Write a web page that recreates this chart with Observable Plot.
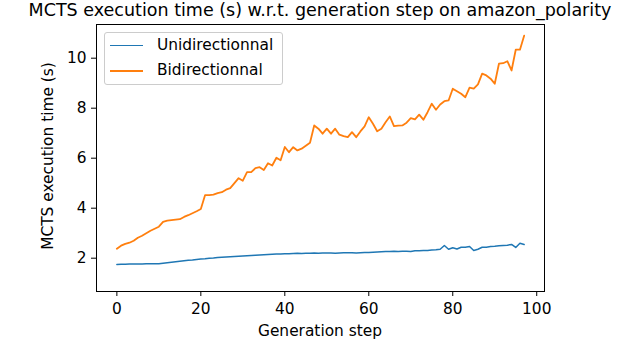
<!DOCTYPE html>
<html>
<head>
<meta charset="utf-8">
<script src="https://cdn.jsdelivr.net/npm/d3@7"></script>
<script src="https://cdn.jsdelivr.net/npm/@observablehq/plot@0.6"></script>
<style>
  html, body { margin: 0; padding: 0; background: #fff; }
  #wrap { position: relative; width: 640px; height: 341px; overflow: hidden; font-family: "DejaVu Sans", sans-serif; color: #000; }
  #title { height: 22px; line-height: 20px; font-size: 17.5px; text-align: center; white-space: nowrap; margin-left: -10px; margin-right: -10px; }
  .ov { position: absolute; font-size: 15.4px; white-space: nowrap; }
  #legend { position: absolute; left: 104px; top: 32px; width: 179px; height: 53px; border: 1px solid #cccccc; border-radius: 3px; background: rgba(255,255,255,0.8); box-sizing: border-box; }
  .lg-line { position: absolute; left: 5px; width: 33px; }
  .lg-text { position: absolute; left: 52px; font-size: 15.4px; line-height: 18px; }
</style>
</head>
<body>
<div id="wrap">
  <div id="title">MCTS execution time (s) w.r.t. generation step on amazon_polarity</div>
  <div id="chart"></div>
  <div class="ov" id="ylab" style="left:48px; top:156px; transform: translate(-50%,-50%) rotate(-90deg);">MCTS execution time (s)</div>
  <div class="ov" id="xlab" style="left:320px; top:331px; transform: translate(-50%,-50%);">Generation step</div>
  <div id="legend">
    <div class="lg-line" style="top:12px; height:0; border-top:1.5px solid #1f77b4;"></div>
    <div class="lg-text" style="top:3px;">Unidirectionnal</div>
    <div class="lg-line" style="top:37px; height:0; border-top:2px solid #ff7f0e;"></div>
    <div class="lg-text" style="top:28px;">Bidirectionnal</div>
  </div>
</div>
<script>
const seriesNames = ["Unidirectionnal", "Bidirectionnal"];
const seriesColors = ["#1f77b4", "#ff7f0e"];

const unidirectional = [
  1.75, 1.76, 1.76, 1.77, 1.77, 1.77, 1.77, 1.78, 1.78, 1.78,
  1.78, 1.80, 1.82, 1.84, 1.86, 1.88, 1.90, 1.92, 1.93, 1.95,
  1.97, 1.98, 2.00, 2.01, 2.03, 2.04, 2.05, 2.06, 2.07, 2.08,
  2.09, 2.10, 2.11, 2.12, 2.13, 2.14, 2.15, 2.16, 2.17, 2.17,
  2.18, 2.18, 2.19, 2.20, 2.19, 2.20, 2.20, 2.21, 2.20, 2.21,
  2.21, 2.21, 2.20, 2.21, 2.22, 2.22, 2.22, 2.21, 2.22, 2.23,
  2.23, 2.24, 2.25, 2.26, 2.27, 2.27, 2.28, 2.27, 2.28, 2.28,
  2.27, 2.30, 2.30, 2.31, 2.31, 2.33, 2.34, 2.36, 2.51, 2.36,
  2.42, 2.37, 2.44, 2.44, 2.47, 2.31, 2.36, 2.44, 2.44, 2.47,
  2.48, 2.50, 2.51, 2.52, 2.55, 2.43, 2.60, 2.55
];

const bidirectional = [
  2.38, 2.50, 2.57, 2.62, 2.70, 2.82, 2.90, 3.00, 3.10, 3.18,
  3.26, 3.45, 3.50, 3.52, 3.54, 3.56, 3.65, 3.72, 3.80, 3.88,
  3.97, 4.52, 4.52, 4.54, 4.60, 4.64, 4.74, 4.80, 5.00, 5.20,
  5.10, 5.44, 5.44, 5.60, 5.64, 5.53, 5.80, 5.71, 6.02, 5.92,
  6.45, 6.24, 6.44, 6.31, 6.38, 6.50, 6.62, 7.31, 7.18, 6.98,
  7.18, 6.98, 7.18, 6.94, 6.88, 6.84, 7.04, 6.84, 7.07, 7.27,
  7.64, 7.38, 7.08, 7.18, 7.44, 7.67, 7.28, 7.30, 7.31, 7.42,
  7.60, 7.55, 7.74, 7.54, 7.84, 8.18, 7.94, 8.15, 8.28, 8.31,
  8.78, 8.68, 8.58, 8.44, 8.82, 8.78, 8.95, 9.38, 9.31, 9.18,
  8.98, 9.78, 9.80, 9.88, 9.51, 10.34, 10.34, 10.90
];

const xTicks = [0, 20, 40, 60, 80, 100];
const yTicks = [2, 4, 6, 8, 10];

const uniData = unidirectional.map((v, i) => ({step: i, time: v}));
const biData = bidirectional.map((v, i) => ({step: i, time: v}));

const chart = Plot.plot({
  width: 640,
  height: 319,
  marginLeft: 96,
  marginRight: 96,
  marginTop: 2,
  marginBottom: 50,
  style: {fontFamily: "DejaVu Sans", fontSize: "15.4px", color: "black", background: "white"},
  x: {domain: [-4.85, 101.85], ticks: xTicks, tickSize: 5, tickPadding: 7, label: null},
  y: {domain: [0.668, 11.348], ticks: yTicks, tickSize: 5, tickPadding: 5, label: null},
  marks: [
    Plot.line(uniData, {x: "step", y: "time", stroke: seriesColors[0], strokeWidth: 1.5}),
    Plot.line(biData, {x: "step", y: "time", stroke: seriesColors[1], strokeWidth: 1.8}),
    Plot.frame({stroke: "black", strokeWidth: 1})
  ]
});
document.getElementById("chart").appendChild(chart);
</script>
</body>
</html>
